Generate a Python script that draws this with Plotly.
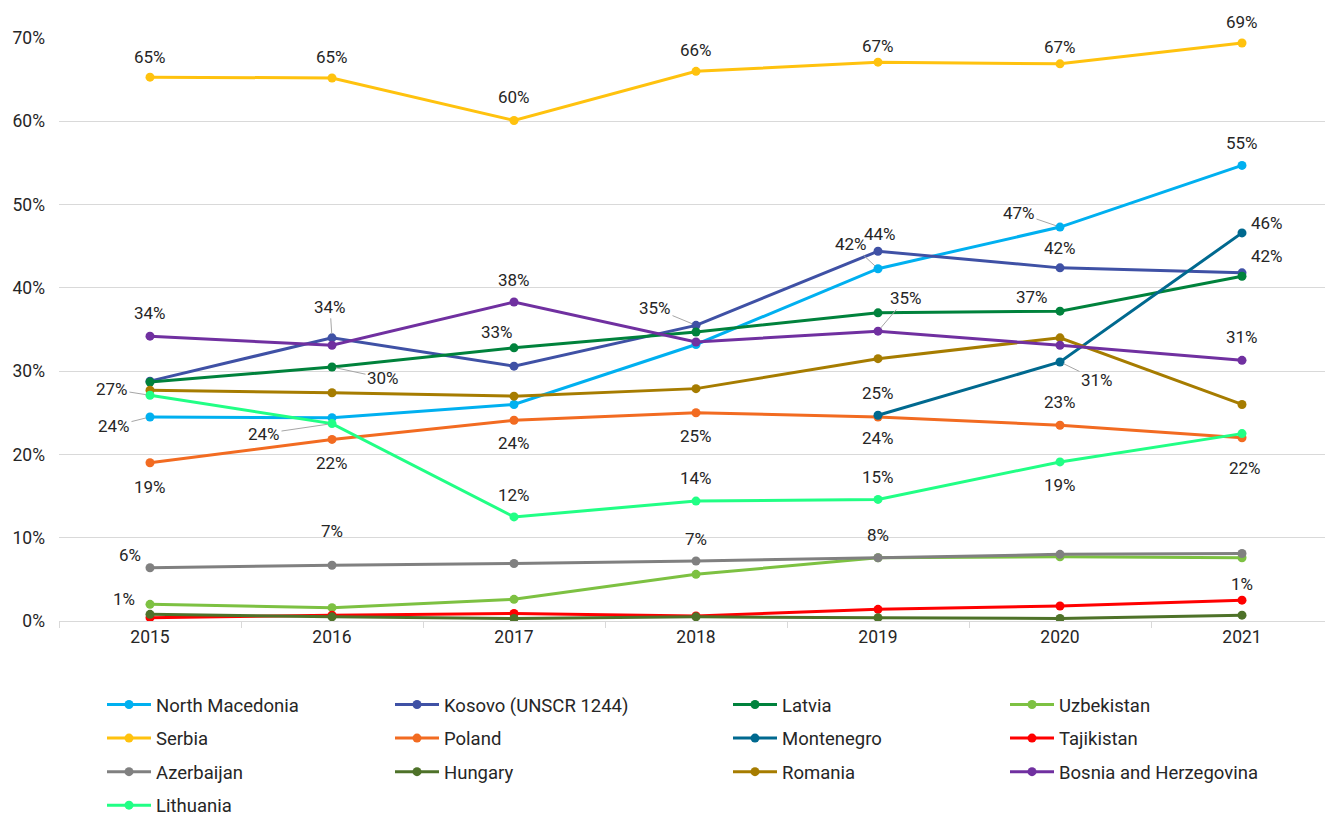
import plotly.graph_objects as go

# chart data (shares, in %)
years = ["2015", "2016", "2017", "2018", "2019", "2020", "2021"]

north_macedonia = [24.5, 24.4, 26.0, 33.2, 42.3, 47.3, 54.7]
kosovo = [28.8, 34.0, 30.6, 35.5, 44.4, 42.4, 41.8]
latvia = [28.7, 30.5, 32.8, 34.7, 37.0, 37.2, 41.4]
uzbekistan = [2.0, 1.6, 2.6, 5.6, 7.6, 7.7, 7.6]
serbia = [65.3, 65.2, 60.1, 66.0, 67.1, 66.9, 69.4]
poland = [19.0, 21.8, 24.1, 25.0, 24.5, 23.5, 22.0]
montenegro = [None, None, None, None, 24.7, 31.1, 46.6]
tajikistan = [0.4, 0.7, 0.9, 0.6, 1.4, 1.8, 2.5]
azerbaijan = [6.4, 6.7, 6.9, 7.2, 7.6, 8.0, 8.1]
hungary = [0.8, 0.5, 0.3, 0.5, 0.4, 0.3, 0.7]
romania = [27.7, 27.4, 27.0, 27.9, 31.5, 34.0, 26.0]
bosnia = [34.2, 33.1, 38.3, 33.5, 34.8, 33.1, 31.3]
lithuania = [27.1, 23.7, 12.5, 14.4, 14.6, 19.1, 22.5]

series = [
    ("North Macedonia", north_macedonia),
    ("Kosovo (UNSCR 1244)", kosovo),
    ("Latvia", latvia),
    ("Uzbekistan", uzbekistan),
    ("Serbia", serbia),
    ("Poland", poland),
    ("Montenegro", montenegro),
    ("Tajikistan", tajikistan),
    ("Azerbaijan", azerbaijan),
    ("Hungary", hungary),
    ("Romania", romania),
    ("Bosnia and Herzegovina", bosnia),
    ("Lithuania", lithuania),
]

# data labels shown on the chart: (series, year, text)
label_points = [
    ("Serbia", "2015", "65%"), ("Bosnia and Herzegovina", "2015", "34%"),
    ("Lithuania", "2015", "27%"), ("North Macedonia", "2015", "24%"),
    ("Poland", "2015", "19%"), ("Azerbaijan", "2015", "6%"), ("Hungary", "2015", "1%"),
    ("Serbia", "2016", "65%"), ("Kosovo (UNSCR 1244)", "2016", "34%"),
    ("Latvia", "2016", "30%"), ("Lithuania", "2016", "24%"),
    ("Poland", "2016", "22%"), ("Azerbaijan", "2016", "7%"),
    ("Serbia", "2017", "60%"), ("Bosnia and Herzegovina", "2017", "38%"),
    ("Latvia", "2017", "33%"), ("Poland", "2017", "24%"), ("Lithuania", "2017", "12%"),
    ("Serbia", "2018", "66%"), ("Kosovo (UNSCR 1244)", "2018", "35%"),
    ("Poland", "2018", "25%"), ("Lithuania", "2018", "14%"), ("Azerbaijan", "2018", "7%"),
    ("Serbia", "2019", "67%"), ("North Macedonia", "2019", "42%"),
    ("Kosovo (UNSCR 1244)", "2019", "44%"), ("Bosnia and Herzegovina", "2019", "35%"),
    ("Montenegro", "2019", "25%"), ("Poland", "2019", "24%"),
    ("Lithuania", "2019", "15%"), ("Azerbaijan", "2019", "8%"),
    ("Serbia", "2020", "67%"), ("North Macedonia", "2020", "47%"),
    ("Kosovo (UNSCR 1244)", "2020", "42%"), ("Latvia", "2020", "37%"),
    ("Montenegro", "2020", "31%"), ("Poland", "2020", "23%"), ("Lithuania", "2020", "19%"),
    ("Serbia", "2021", "69%"), ("North Macedonia", "2021", "55%"),
    ("Montenegro", "2021", "46%"), ("Kosovo (UNSCR 1244)", "2021", "42%"),
    ("Bosnia and Herzegovina", "2021", "31%"), ("Poland", "2021", "22%"),
    ("Hungary", "2021", "1%"),
]

# --- styling ---
colors = {
    "North Macedonia": "#00B0F0",
    "Kosovo (UNSCR 1244)": "#3F51A5",
    "Latvia": "#00823C",
    "Uzbekistan": "#7DC142",
    "Serbia": "#FFC20E",
    "Poland": "#F26B21",
    "Montenegro": "#00698F",
    "Tajikistan": "#FF0000",
    "Azerbaijan": "#808080",
    "Hungary": "#4E7229",
    "Romania": "#A67C00",
    "Bosnia and Herzegovina": "#7030A0",
    "Lithuania": "#21FF85",
}

# which legend column each series goes in (Excel-like 4 column legend)
legend_cols = {
    "North Macedonia": "legend", "Serbia": "legend", "Azerbaijan": "legend", "Lithuania": "legend",
    "Kosovo (UNSCR 1244)": "legend2", "Poland": "legend2", "Hungary": "legend2",
    "Latvia": "legend3", "Montenegro": "legend3", "Romania": "legend3",
    "Uzbekistan": "legend4", "Tajikistan": "legend4", "Bosnia and Herzegovina": "legend4",
}

# label offsets in px, parallel to label_points: (dx, dy, leader line)
# dy positive = up for plain labels; for leader labels dx/dy are ax/ay (down positive)
label_offsets = [
    (0, 20, False), (0, 23, False), (-38, -6, True), (-36, 9, True),
    (0, -24, False), (-20, 13, False), (-26, 15, False),
    (0, 21, False), (-2, -31, True), (51, 11, True), (-68, 10, True),
    (0, -24, False), (0, 34, False),
    (0, 23, False), (0, 22, False), (-17, 16, False), (0, -23, False), (0, 22, False),
    (0, 21, False), (-41, -17, True), (0, -23, False), (0, 23, False), (0, 22, False),
    (0, 16, False), (-27, -25, True), (2, 17, False), (28, -33, True),
    (0, 22, False), (0, -21, False), (0, 22, False), (0, 23, False),
    (0, 17, False), (-41, -14, True), (0, 20, False), (-28, 14, False),
    (37, 18, True), (0, 23, False), (0, -23, False),
    (0, 21, False), (0, 22, False), (25, 10, False), (25, 17, False),
    (0, 23, False), (3, -30, False), (0, 31, False),
]

font_family = "Roboto, Arial, sans-serif"
text_color = "#404040"
label_color = "#262626"
grid_color = "#D9D9D9"

# the page body has an 8px margin, so the figure is drawn 8px smaller
fig_w, fig_h = 1325, 807
m_l, m_t, m_b = 51, 30, 194
legend_top = 686 - 8  # px from the figure top

fig = go.Figure()
for name, vals in series:
    fig.add_trace(
        go.Scatter(
            x=years,
            y=vals,
            name=name,
            mode="lines+markers",
            line=dict(color=colors[name], width=3),
            marker=dict(color=colors[name], size=9),
            legend=legend_cols[name],
            legendgroup=name,
            connectgaps=False,
        )
    )

lookup = dict(series)
annotations = []
for (name, yr, txt), (dx, dy, leader) in zip(label_points, label_offsets):
    xi = years.index(yr)  # category axes take the category index
    yv = lookup[name][xi]
    if leader:
        annotations.append(dict(
            x=xi, y=yv, xref="x", yref="y", text=txt,
            showarrow=True, arrowhead=0, arrowwidth=1, arrowcolor="#A6A6A6",
            ax=dx, ay=dy, standoff=4,
            font=dict(family=font_family, size=17, color=label_color),
        ))
    else:
        annotations.append(dict(
            x=xi, y=yv, xref="x", yref="y", text=txt, showarrow=False,
            xshift=dx, yshift=dy,
            font=dict(family=font_family, size=17, color=label_color),
        ))

plot_w = fig_w - m_l

# legends positioned in container coords so they sit at fixed pixel rows
legend_style = dict(
    orientation="v", xref="paper", yref="container",
    yanchor="top", y=1 - legend_top / fig_h, xanchor="left",
    font=dict(family=font_family, size=18.5, color=label_color),
    tracegroupgap=6.5, traceorder="grouped", bgcolor="rgba(0,0,0,0)",
    itemwidth=44,
)

def col_x(px):
    # pixel position of legend column (window coords) -> paper coords
    return (px - 8 - m_l - 5) / plot_w

fig.update_layout(
    width=fig_w,
    height=fig_h,
    margin=dict(l=m_l, r=0, t=m_t, b=m_b),
    plot_bgcolor="white",
    paper_bgcolor="white",
    font=dict(family=font_family, size=17, color=text_color),
    showlegend=True,
    annotations=annotations,
    legend=dict(legend_style, x=col_x(107)),
    legend2=dict(legend_style, x=col_x(395)),
    legend3=dict(legend_style, x=col_x(733)),
    legend4=dict(legend_style, x=col_x(1010)),
    xaxis=dict(
        type="category",
        range=[-0.5, 6.5],
        showgrid=False,
        showline=True,
        linecolor=grid_color,
        linewidth=1,
        ticks="outside",
        tickson="boundaries",
        ticklen=6,
        tickcolor=grid_color,
        tickfont=dict(family=font_family, size=17.5, color=label_color),
    ),
    yaxis=dict(
        range=[0, 70],
        dtick=10,
        ticksuffix="%",
        showgrid=True,
        gridcolor=grid_color,
        gridwidth=1,
        zeroline=False,
        showline=False,
        ticklabelstandoff=13,
        tickfont=dict(family=font_family, size=17.5, color=label_color),
    ),
)

fig.write_html("out.html")
